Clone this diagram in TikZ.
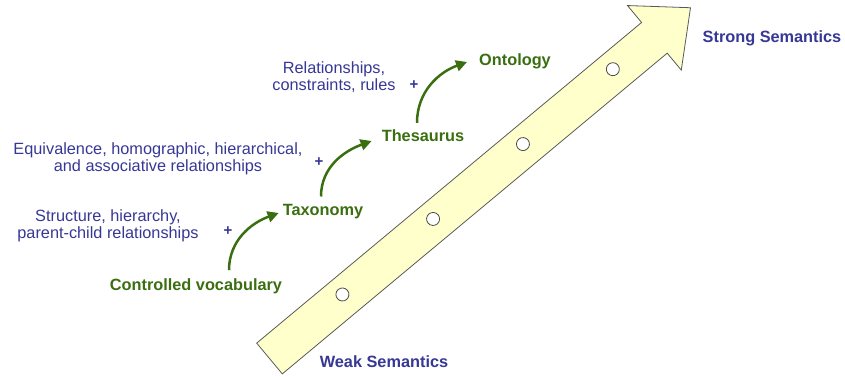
\documentclass[tikz,border=0pt]{standalone}
\usepackage{fontspec}
\setmainfont{Liberation Sans}
\usetikzlibrary{positioning, arrows.meta, calc}
\definecolor{stepgreen}{RGB}{58, 110, 16}
\definecolor{noteblue}{RGB}{55, 55, 150}
\definecolor{barfill}{RGB}{255, 255, 204}

\begin{document}
\begin{tikzpicture}[x=1pt, y=1pt,
      stage/.style={text=stepgreen, font=\fontsize{16.3}{17.5}\selectfont\bfseries, inner sep=0pt},
      note/.style={text=noteblue, font=\fontsize{16.3}{17.5}\selectfont, align=center, inner sep=0pt},
      pole/.style={text=noteblue, font=\fontsize{16.3}{17.5}\selectfont\bfseries, inner sep=0pt},
      plus/.style={text=noteblue, font=\fontsize{15}{15}\selectfont\bfseries, inner sep=0pt},
      steparrow/.style={-{Triangle[length=11pt, width=11pt]}, line width=2.5pt, stepgreen},
      hole/.style={draw=black!70, fill=white, line width=0.8pt}
    ]
      \useasboundingbox (0,0) rectangle (845,377);

      % the big rising arrow
      \begin{scope}[shift={(269.5,18.5)}, rotate=39.8]
        \draw [draw=black!65, fill=barfill, line width=0.8pt] (0,-20) -- (501,-20) -- (501,-42) -- (548,0) -- (501,42) -- (501,20) -- (0,20) -- cycle;
        \foreach \x in {97,215,332,449}
          \draw [hole] (\x,2.5) circle (6.5);
      \end{scope}

      \node [pole] (weak) at (384,15) {Weak Semantics};
      \node [pole] (strong) at (772,339) {Strong Semantics};

      \node [stage] (cv) at (196,91) {Controlled vocabulary};
      \node [stage] (tax) at (323,165) {Taxonomy};
      \node [stage] (thes) at (423,241) {Thesaurus};
      \node [stage] (onto) at (515,316) {Ontology};

      \node [note] (n1) at (108,151) {Structure, hierarchy,\\parent-child relationships};
      \node [note] (n2) at (158,218) {Equivalence, homographic, hierarchical,\\and associative relationships};
      \node [note] (n3) at (334,300) {Relationships,\\constraints, rules};
      \node [plus] (p1) at (228,146) {+};
      \node [plus] (p2) at (319,215) {+};
      \node [plus] (p3) at (414,292) {+};

      \draw [steparrow] ($(cv.north)+(33,8)$) to[out=90, in=200] ($(tax.west)+(-4,-1)$);
      \draw [steparrow] ($(tax.north)+(-2,8)$) to[out=90, in=200] ($(thes.west)+(-10,-5)$);
      \draw [steparrow] ($(thes.north)+(-6,7)$) to[out=90, in=200] ($(onto.west)+(-12,-1)$);
    \end{tikzpicture}
\end{document}
